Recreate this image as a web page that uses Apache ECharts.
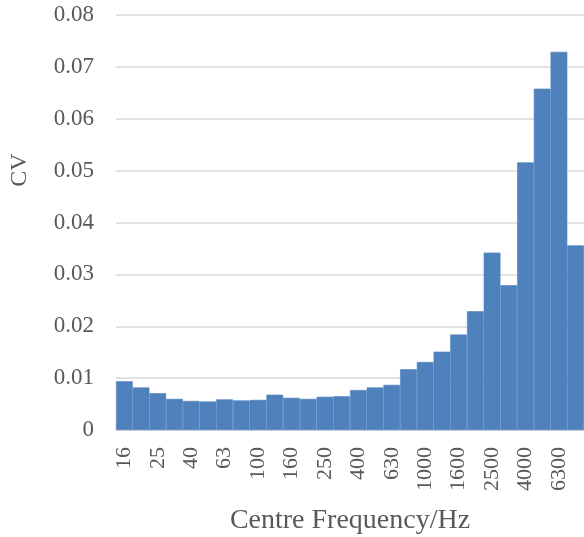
<!DOCTYPE html>
<html>
<head>
<meta charset="utf-8">
<script src="https://cdn.jsdelivr.net/npm/echarts@6/dist/echarts.min.js"></script>
<style>
  html, body { margin: 0; padding: 0; background: #fff; }
  #main { width: 584px; height: 537px; }
</style>
</head>
<body>
<div id="main"></div>
<script>
// 1/3 octave band centre frequencies
var bands = ['16', '20', '25', '31.5', '40', '50', '63', '80', '100', '125', '160', '200', '250', '315',
             '400', '500', '630', '800', '1000', '1250', '1600', '2000', '2500', '3150', '4000', '5000', '6300', '8000'];
// coefficient of variation per band
var cvValues = [0.0094, 0.0082, 0.0071, 0.0060, 0.0056, 0.0055, 0.0059, 0.0057, 0.0058, 0.0068, 0.0062, 0.0060, 0.0064, 0.0065,
                0.0077, 0.0082, 0.0087, 0.0117, 0.0131, 0.0151, 0.0184, 0.0229, 0.0342, 0.0279, 0.0516, 0.0658, 0.0729, 0.0356];
var yTicks = [0, 0.01, 0.02, 0.03, 0.04, 0.05, 0.06, 0.07, 0.08];

var myChart = echarts.init(document.getElementById('main'));

var textColor = '#595959';
var font = 'Liberation Serif';

var option = {
    animation: false,
    grid: {
        left: 116,
        right: 0,
        top: 15,
        bottom: 107,
        outerBoundsMode: 'none'
    },
    xAxis: {
        type: 'category',
        data: bands,
        name: 'Centre Frequency/Hz',
        nameLocation: 'middle',
        nameGap: 77,
        nameTextStyle: { color: textColor, fontFamily: font, fontSize: 28 },
        axisLine: { lineStyle: { color: '#d9d9d9', width: 1.5 } },
        axisTick: { show: false },
        axisLabel: {
            interval: 1,
            rotate: 90,
            margin: 17,
            color: textColor,
            fontFamily: font,
            fontSize: 22
        }
    },
    yAxis: {
        type: 'value',
        min: yTicks[0],
        max: yTicks[yTicks.length - 1],
        interval: 0.01,
        axisLine: { show: false },
        axisTick: { show: false },
        splitLine: { lineStyle: { color: '#d9d9d9', width: 1.5 } },
        axisLabel: {
            margin: 22,
            color: textColor,
            fontFamily: font,
            fontSize: 23,
            formatter: function (v) { return v === 0 ? '0' : v.toFixed(2); }
        }
    },
    graphic: [{
        type: 'text',
        x: 8,
        y: 170,
        rotation: Math.PI / 2,
        style: {
            text: 'CV',
            fill: textColor,
            font: '24px "Liberation Serif"',
            textAlign: 'center',
            textVerticalAlign: 'top'
        }
    }],
    series: [{
        name: 'CV',
        type: 'bar',
        data: cvValues,
        barCategoryGap: '0%',
        itemStyle: { color: '#4f81bd', borderColor: '#4f81bd', borderWidth: 0.6 }
    }]
};

myChart.setOption(option);
</script>
</body>
</html>
